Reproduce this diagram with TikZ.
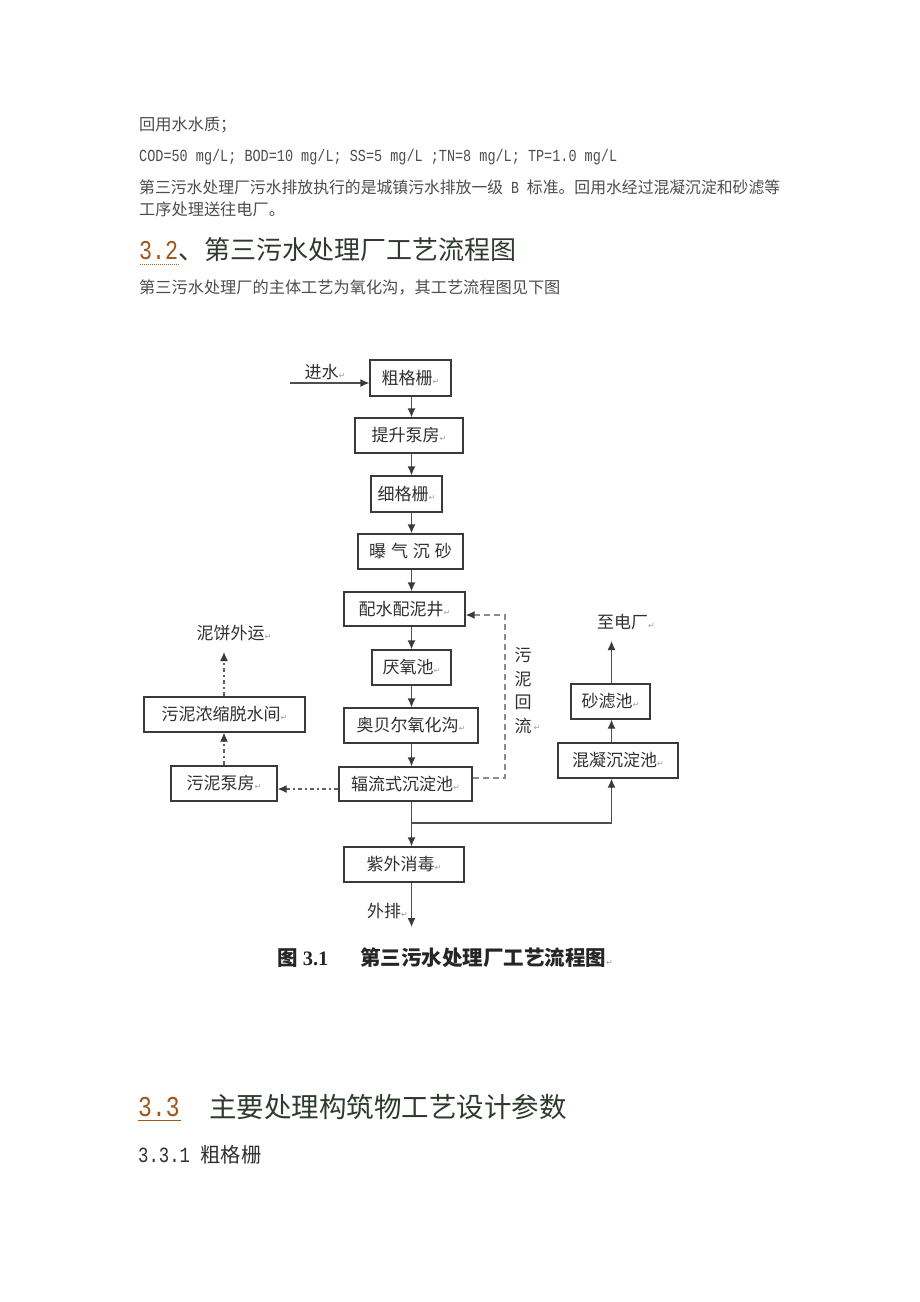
\documentclass[tikz,border=0pt]{standalone}
\usepackage{fontspec}
\usepackage{graphicx}
\usetikzlibrary{arrows.meta}
\newfontfamily\cjk{Noto Sans CJK SC}
\newfontfamily\monof{Liberation Mono}
\newfontfamily\tnr{Liberation Serif}
\newfontfamily\dvs{DejaVu Sans}
\definecolor{bodyc}{HTML}{4D4D4D}
\definecolor{headc}{HTML}{2E3A2E}
\definecolor{brownc}{HTML}{A0581A}
\definecolor{linec}{HTML}{3A3A3A}
\definecolor{labc}{HTML}{303030}
\definecolor{retc}{HTML}{A0A0A0}
\definecolor{loopc}{HTML}{8C8C8C}
\newcommand\retm{{\dvs\fontsize{8}{8}\selectfont\color{retc}↵}}
\newcommand\bodyfont{\cjk\fontsize{16.2}{16.2}\selectfont}
\newcommand\tallmono[2]{\scalebox{1}[1.25]{\monof\fontsize{#1}{#1}\selectfont #2}}
\tikzset{
  box/.style={draw=linec, line width=1.3pt, inner sep=0pt, text=labc,
    font=\cjk\fontsize{17}{17}\selectfont},
  lab/.style={inner sep=0pt, text=labc, font=\cjk\fontsize{17}{17}\selectfont},
  flow/.style={draw=linec!90, line width=1.3pt, -{Latex[length=9pt,width=8pt,color=linec]}},
  loopline/.style={draw=loopc, line width=1.4pt, dash pattern=on 6pt off 4pt,
    -{Latex[length=9pt,width=8pt,fill=linec,color=linec]}},
  dashdotline/.style={draw=linec!80, line width=1.3pt,
    dash pattern=on 4.5pt off 3pt on 1.5pt off 3pt, -{Latex[length=9pt,width=8pt,color=linec]}},
  body/.style={anchor=west, inner sep=0pt, text=bodyc, font=\bodyfont},
}
\begin{document}
\begin{tikzpicture}[x=1pt,y=-1pt]
\fill[white] (0,0) rectangle (920,1302);
\useasboundingbox (0,0) rectangle (920,1302);

% ---------- top text ----------
\node[body] (t1) at (139,125) {回用水水质；};
\node[body] (t2) at (139,157)
  {\tallmono{13.5}{COD=50 mg/L; BOD=10 mg/L; SS=5 mg/L ;TN=8 mg/L; TP=1.0 mg/L}};
\node[body] (t3) at (139,187)
  {\scalebox{0.977}[1]{第三污水处理厂污水排放执行的是城镇污水排放一级\tallmono{13.5}{\ B\ }标准。回用水经过混凝沉淀和砂滤等}};
\node[body] (t4) at (139,209) {工序处理送往电厂。};
\node[anchor=west, inner sep=0pt] (h1) at (139,250)
  {{\color{brownc}\tallmono{21.7}{3.2}}{\cjk\fontsize{26}{26}\selectfont\color{headc}、第三污水处理厂工艺流程图}};
\draw[brownc!80!orange, line width=1pt, dash pattern=on 1pt off 1pt] (140,264) -- (180,264);
\node[body] (t5) at (139,288) {第三污水处理厂的主体工艺为氧化沟，其工艺流程图见下图};

% ---------- diagram boxes ----------
\node[box, minimum width=81pt, minimum height=36pt] (b1) at (410.5,378) {粗格栅\retm};
\node[box, minimum width=108pt, minimum height=35pt] (b2) at (409,435.5) {提升泵房\retm};
\node[box, minimum width=71pt, minimum height=36pt] (b3) at (406.5,494) {细格栅\retm};
\node[box, minimum width=105pt, minimum height=35pt] (b4) at (410.5,551.5) {曝\hspace{5pt}气\hspace{5pt}沉\hspace{5pt}砂};
\node[box, minimum width=121pt, minimum height=34pt] (b5) at (404.5,609) {配水配泥井\retm};
\node[box, minimum width=79pt, minimum height=35pt] (b6) at (411.5,667.5) {厌氧池\retm};
\node[box, minimum width=134pt, minimum height=35pt] (b7) at (411,725.5) {奥贝尔氧化沟\retm};
\node[box, minimum width=133pt, minimum height=34pt] (b8) at (405.5,784) {辐流式沉淀池\retm};
\node[box, minimum width=120pt, minimum height=35pt] (b9) at (404,864.5) {紫外消毒\retm};
\node[box, minimum width=106pt, minimum height=35pt] (s1) at (224,783.5) {污泥泵房\retm};
\node[box, minimum width=161pt, minimum height=35pt] (s2) at (224.5,714.5) {污泥浓缩脱水间\retm};
\node[box, minimum width=79pt, minimum height=35pt] (r1) at (610.5,701.5) {砂滤池\retm};
\node[box, minimum width=120pt, minimum height=35pt] (r2) at (618,760.5) {混凝沉淀池\retm};

% ---------- free labels ----------
\node[lab] (jin) at (325,372) {进水\retm};
\node[lab] (nb) at (234,633) {泥饼外运\retm};
\node[lab] (zd) at (626,622) {至电厂\retm};
\node[lab, anchor=west] (wp) at (367,911) {外排\retm};
\node[lab, align=center, font=\cjk\fontsize{17}{23.5}\selectfont] (hl) at (523,690.5) {污\\泥\\回\\流};
\node[inner sep=0pt] (hlr) at (537,728) {\retm};

% ---------- coordinates ----------
\coordinate (mx) at (411.5,0);
\coordinate (rx) at (611.5,0);
\coordinate (sx) at (224,0);
\coordinate (in) at (290,383);
\coordinate (j) at (411.5,823);
\coordinate (out) at (411.5,927);
\coordinate (el) at (611.5,641);
\coordinate (nbt) at (224,652);
\coordinate (lr1) at (505,778);
\coordinate (lr2) at (505,615);
\coordinate (dd) at (0,789);

% ---------- connectors ----------
\draw[flow] (in) -- (b1.west |- in);
\draw[flow] (b1.south -| mx) -- (b2.north -| mx);
\draw[flow] (b2.south -| mx) -- (b3.north -| mx);
\draw[flow] (b3.south -| mx) -- (b4.north -| mx);
\draw[flow] (b4.south -| mx) -- (b5.north -| mx);
\draw[flow] (b5.south -| mx) -- (b6.north -| mx);
\draw[flow] (b6.south -| mx) -- (b7.north -| mx);
\draw[flow] (b7.south -| mx) -- (b8.north -| mx);
\draw[flow] (b8.south -| mx) -- (b9.north -| mx);
\draw[flow] (b9.south -| mx) -- (out);
\draw[flow] (j) -| (r2.south -| rx);
\draw[flow] (r2.north -| rx) -- (r1.south -| rx);
\draw[flow] (r1.north -| rx) -- (el);
\draw[loopline] (b8.east |- lr1) -- (lr1) -- (lr2) -- (b5.east |- lr2);
\draw[dashdotline] (b8.west |- dd) -- (s1.east |- dd);
\draw[dashdotline] (s1.north -| sx) -- (s2.south -| sx);
\draw[dashdotline] (s2.north -| sx) -- (nbt);

% ---------- caption ----------
\node[anchor=west, inner sep=0pt, text=black!85] (c1) at (277,958)
  {{\cjk\bfseries\fontsize{20.5}{20.5}\selectfont 图}{\tnr\bfseries\fontsize{20.5}{20.5}\selectfont\ 3.1}};
\node[anchor=west, inner sep=0pt, text=black!85] (c2) at (360,958)
  {{\cjk\bfseries\fontsize{20.5}{20.5}\selectfont 第三污水处理厂工艺流程图}\retm};

% ---------- bottom headings ----------
\node[anchor=west, inner sep=0pt] (h2) at (138,1107)
  {{\color{brownc}\tallmono{23}{3.3}}};
\draw[brownc, line width=1pt] (138,1120) -- (181,1120);
\node[anchor=west, inner sep=0pt, text=headc, font=\cjk\fontsize{27.5}{27.5}\selectfont] (h2b) at (209,1107)
  {主要处理构筑物工艺设计参数};
\node[anchor=west, inner sep=0pt, text=labc] (h3) at (138,1155)
  {\tallmono{17.3}{3.3.1\ }{\cjk\fontsize{20.3}{20.3}\selectfont 粗格栅}};
\end{tikzpicture}
\end{document}
